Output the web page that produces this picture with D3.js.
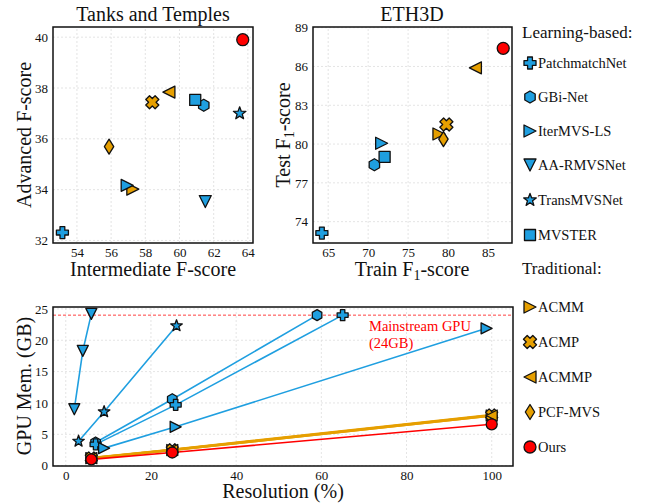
<!DOCTYPE html>
<html>
<head>
<meta charset="utf-8">
<script src="https://cdn.jsdelivr.net/npm/d3@7"></script>
<style>
  body { margin: 0; background: #fff; }
  svg text { font-family: "Liberation Serif", "DejaVu Serif", serif; fill: #111; }
</style>
</head>
<body>
<div id="chart"></div>
<script>
// Methods and their markers
const methods = ["PatchmatchNet", "GBi-Net", "IterMVS-LS", "AA-RMVSNet", "TransMVSNet", "MVSTER",
                 "ACMM", "ACMP", "ACMMP", "PCF-MVS", "Ours"];
const shapes = ["plus", "hexagon", "triRight", "triDown", "star", "square",
                "triRight", "x", "triLeft", "diamond", "circle"];
const groups = ["L", "L", "L", "L", "L", "L", "T", "T", "T", "T", "O"];

// Tanks and Temples (intermediate, advanced)
const tntIntermediate = [53.15, 61.42, 56.94, 61.51, 63.52, 60.92, 57.27, 58.41, 59.38, 55.88, 63.70];
const tntAdvanced = [32.31, 37.32, 34.17, 33.53, 37.00, 37.53, 34.02, 37.44, 37.84, 35.69, 39.90];

// ETH3D (train, test); AA-RMVSNet and TransMVSNet not reported
const ethTrain = [64.21, 70.78, 71.69, null, null, 72.06, 78.86, 79.79, 83.42, 79.42, 86.90];
const ethTest = [73.12, 78.40, 80.06, null, null, 79.01, 80.78, 81.51, 85.89, 80.38, 87.40];

// GPU memory vs resolution
const memMethods = ["ACMM", "ACMP", "ACMMP", "AA-RMVSNet", "TransMVSNet", "GBi-Net", "PatchmatchNet", "IterMVS-LS", "Ours"];
const memRes = [
  [6, 25, 100], [6, 25, 100], [6, 25, 100],
  [2, 4, 6], [3, 9, 26], [7, 25, 59], [7, 25.8, 65], [9, 25.8, 98.8],
  [6, 25, 100]
];
const memGB = [
  [1.2, 2.5, 8.0], [1.25, 2.55, 8.1], [1.2, 2.5, 8.0],
  [9.0, 18.3, 24.2], [3.9, 8.6, 22.3], [3.7, 10.6, 24.0], [3.4, 9.7, 24.0], [2.8, 6.2, 21.9],
  [1.0, 2.1, 6.6]
];
const gpuLimit = 24;

const tntXTicks = [54, 56, 58, 60, 62, 64];
const tntYTicks = [32, 34, 36, 38, 40];
const ethXTicks = [65, 70, 75, 80, 85];
const ethYTicks = [74, 77, 80, 83, 86, 89];
const memXTicks = [0, 20, 40, 60, 80, 100];
const memYTicks = [0, 5, 10, 15, 20, 25];

const blue = "#1f9fe0";
const orange = "#e69f00";
const red = "#ff0000";
const colorOf = g => g === "L" ? blue : g === "T" ? orange : red;
const serif = "Liberation Serif, DejaVu Serif, serif";

const svg = d3.select("#chart").append("svg")
  .attr("width", 646).attr("height", 504)
  .attr("font-family", serif);
svg.append("rect").attr("width", 646).attr("height", 504).attr("fill", "#fff");

// Marker path, r = half extent
function markerPath(shape, r) {
  const poly = pts => "M" + pts.map(p => p[0].toFixed(2) + "," + p[1].toFixed(2)).join("L") + "Z";
  const rot = (pts, a) => pts.map(([x, y]) => [x * Math.cos(a) - y * Math.sin(a), x * Math.sin(a) + y * Math.cos(a)]);
  const w = r * 0.4;
  const plus = [[-w, -r], [w, -r], [w, -w], [r, -w], [r, w], [w, w], [w, r], [-w, r], [-w, w], [-r, w], [-r, -w], [-w, -w]];
  switch (shape) {
    case "circle": return d3.symbol(d3.symbolCircle, Math.PI * r * r)();
    case "square": { const s = r * 0.92; return poly([[-s, -s], [s, -s], [s, s], [-s, s]]); }
    case "plus": return poly(plus);
    case "x": return poly(rot(plus.map(([x, y]) => [x * 1.1, y * 1.1]), Math.PI / 4));
    case "hexagon": return poly(d3.range(6).map(k => {
      const a = -Math.PI / 2 + k * Math.PI / 3;
      return [r * Math.cos(a), r * Math.sin(a)];
    }));
    case "triRight": return poly([[r, 0], [-r, -r], [-r, r]]);
    case "triLeft": return poly([[-r, 0], [r, -r], [r, r]]);
    case "triDown": return poly([[0, r], [-r, -r], [r, -r]]);
    case "diamond": return poly([[0, -r * 1.25], [r * 0.78, 0], [0, r * 1.25], [-r * 0.78, 0]]);
    case "star": return poly(d3.range(10).map(k => {
      const a = -Math.PI / 2 + k * Math.PI / 5;
      const rr = k % 2 === 0 ? r * 1.1 : r * 0.45;
      return [rr * Math.cos(a), rr * Math.sin(a)];
    }));
  }
}

function drawMarker(g, shape, x, y, r, fill) {
  g.append("path")
    .attr("d", markerPath(shape, r))
    .attr("transform", `translate(${x},${y})`)
    .attr("fill", fill)
    .attr("stroke", "#111")
    .attr("stroke-width", 1.3)
    .attr("stroke-linejoin", "round");
}

// Grid and tick labels
function drawPanel(x, y, xTicks, yTicks) {
  const g = svg.append("g");
  const [x0, x1] = x.range(), [y0, y1] = y.range();
  g.selectAll(".gx").data(xTicks).join("line")
    .attr("x1", d => x(d)).attr("x2", d => x(d)).attr("y1", y0).attr("y2", y1)
    .attr("stroke", "#ddd").attr("stroke-width", 0.8).attr("stroke-dasharray", "2,2");
  g.selectAll(".gy").data(yTicks).join("line")
    .attr("x1", x0).attr("x2", x1).attr("y1", d => y(d)).attr("y2", d => y(d))
    .attr("stroke", "#ddd").attr("stroke-width", 0.8).attr("stroke-dasharray", "2,2");

  const ax = g.append("g").attr("transform", `translate(0,${y0})`)
    .call(d3.axisBottom(x).tickValues(xTicks).tickSize(0).tickPadding(5));
  const ay = g.append("g").attr("transform", `translate(${x0},0)`)
    .call(d3.axisLeft(y).tickValues(yTicks).tickSize(0).tickPadding(5));
  [ax, ay].forEach(a => {
    a.attr("font-family", serif).attr("font-size", 13);
    a.select(".domain").remove();
    a.selectAll("text").attr("fill", "#222");
  });
  return g;
}

function drawFrame(x, y) {
  const [x0, x1] = x.range(), [y0, y1] = y.range();
  svg.append("rect")
    .attr("x", x0).attr("y", y1).attr("width", x1 - x0).attr("height", y0 - y1)
    .attr("fill", "none").attr("stroke", "#111").attr("stroke-width", 1.5);
}

function label(x, y, rotate, size) {
  return svg.append("text")
    .attr("transform", `translate(${x},${y})` + (rotate ? " rotate(-90)" : ""))
    .attr("text-anchor", "middle")
    .attr("font-size", size);
}

function subLabel(sel, before, after) {
  sel.append("tspan").text(before);
  sel.append("tspan").text("1").attr("font-size", 14).attr("dy", 4);
  sel.append("tspan").text(after).attr("dy", -4);
}

// draw order: traditional first, then learning-based, then ours
const order = [6, 7, 8, 9, 0, 1, 2, 3, 4, 5, 10];

// ---- Tanks and Temples ----
const tntX = d3.scaleLinear([52.6, 64.3], [53, 253]);
const tntY = d3.scaleLinear([31.9, 40.4], [243, 27]);
drawPanel(tntX, tntY, tntXTicks, tntYTicks);
const tntG = svg.append("g");
order.forEach(i => drawMarker(tntG, shapes[i], tntX(tntIntermediate[i]), tntY(tntAdvanced[i]), 6, colorOf(groups[i])));
drawFrame(tntX, tntY);
label(153, 21, false, 20).text("Tanks and Temples");
label(153, 276, false, 20).text("Intermediate F-score");
label(31, 135, true, 20).text("Advanced F-score");

// ---- ETH3D ----
const ethX = d3.scaleLinear([63.1, 88.0], [313, 512]);
const ethY = d3.scaleLinear([72.35, 89.05], [243, 27]);
drawPanel(ethX, ethY, ethXTicks, ethYTicks);
const ethG = svg.append("g");
order.filter(i => ethTrain[i] !== null)
  .forEach(i => drawMarker(ethG, shapes[i], ethX(ethTrain[i]), ethY(ethTest[i]), 6, colorOf(groups[i])));
drawFrame(ethX, ethY);
label(412, 21, false, 20).text("ETH3D");
subLabel(label(412, 276, false, 20), "Train F", "-score");
subLabel(label(290, 135, true, 20), "Test F", "-score");

// ---- GPU memory ----
const memX = d3.scaleLinear([-3, 105], [53, 513]);
const memY = d3.scaleLinear([-0.05, 25.3], [466, 307]);
drawPanel(memX, memY, memXTicks, memYTicks);
svg.append("line")
  .attr("x1", memX.range()[0]).attr("x2", memX.range()[1])
  .attr("y1", memY(gpuLimit)).attr("y2", memY(gpuLimit))
  .attr("stroke", red).attr("stroke-opacity", 0.75).attr("stroke-width", 1).attr("stroke-dasharray", "3,2");
const memLine = d3.line().x(d => memX(d[0])).y(d => memY(d[1]));
const memG = svg.append("g");
memMethods.forEach((m, k) => {
  const i = methods.indexOf(m);
  const pts = memRes[k].map((r, j) => [r, memGB[k][j]]);
  memG.append("path").datum(pts).attr("d", memLine)
    .attr("fill", "none").attr("stroke", colorOf(groups[i]))
    .attr("stroke-width", groups[i] === "T" ? 2.4 : 1.6);
});
memMethods.forEach((m, k) => {
  const i = methods.indexOf(m);
  memRes[k].forEach((r, j) => drawMarker(memG, shapes[i], memX(r), memY(memGB[k][j]), 5.5, colorOf(groups[i])));
});
drawFrame(memX, memY);
svg.append("text").attr("x", 369).attr("y", 331).attr("font-size", 14.5).style("fill", red).text("Mainstream GPU");
svg.append("text").attr("x", 369).attr("y", 348).attr("font-size", 14.5).style("fill", red).text("(24GB)");
label(283, 498, false, 20).text("Resolution (%)");
label(31, 386, true, 20).text("GPU Mem. (GB)");

// ---- Legend ----
const legend = svg.append("g");
const legendY = [63, 97, 131, 165, 200, 235, 307, 342, 377, 412, 447];
legend.append("text").attr("x", 522).attr("y", 38).attr("font-size", 17).text("Learning-based:");
legend.append("text").attr("x", 522).attr("y", 274).attr("font-size", 17).text("Traditional:");
methods.forEach((m, i) => {
  drawMarker(legend, shapes[i], 530, legendY[i], 6, colorOf(groups[i]));
  legend.append("text").attr("x", 538).attr("y", legendY[i] + 5).attr("font-size", 14.5).text(m);
});
</script>
</body>
</html>
